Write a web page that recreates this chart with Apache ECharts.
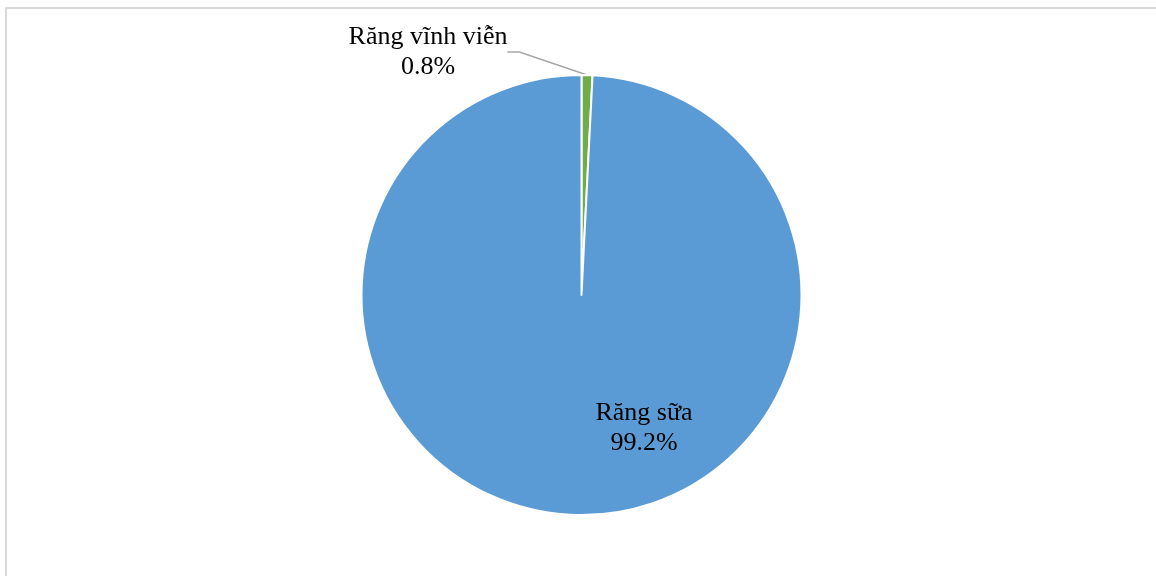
<!DOCTYPE html>
<html>
<head>
<meta charset="utf-8">
<script src="https://cdn.jsdelivr.net/npm/echarts@6/dist/echarts.min.js"></script>
<style>
  html, body { margin: 0; padding: 0; background: #ffffff; }
  #chart { width: 1156px; height: 576px; }
</style>
</head>
<body>
<div id="chart"></div>
<script>
// Tooth type shares
const categories = ['Răng vĩnh viễn', 'Răng sữa'];
const shares = [0.8, 99.2];
const sliceColors = ['#70AD47', '#5B9BD5'];

const chart = echarts.init(document.getElementById('chart'), null, { renderer: 'canvas' });

const data = categories.map((name, i) => ({
  name: name,
  value: shares[i],
  itemStyle: { color: sliceColors[i] }
}));

const option = {
  backgroundColor: '#ffffff',
  animation: false,
  graphic: [{
    type: 'polyline',
    shape: { points: [[6, 576], [6, 8], [1156, 8]] },
    style: { stroke: '#d9d9d9', lineWidth: 2, fill: null },
    silent: true
  }],
  series: [{
    type: 'pie',
    center: [581.5, 295],
    radius: 220,
    startAngle: 90,
    clockwise: true,
    avoidLabelOverlap: false,
    itemStyle: { borderColor: '#ffffff', borderWidth: 2 },
    label: {
      show: true,
      fontFamily: 'Liberation Serif',
      fontSize: 26,
      lineHeight: 30,
      color: '#000000',
      align: 'center',
      formatter: p => p.name + '\n' + p.value.toFixed(1) + '%'
    },
    labelLine: {
      show: true,
      length: 10,
      length2: 12,
      lineStyle: { color: '#a6a6a6', width: 1.5 }
    },
    labelLayout: function (params) {
      if (params.dataIndex === 0) {
        return { x: 428, y: 52, align: 'center', verticalAlign: 'middle' };
      }
      return { x: 644, y: 428, align: 'center', verticalAlign: 'middle' };
    },
    data: data
  }]
};

// the large slice carries its label inside, without a leader line
option.series[0].data[1].label = { position: 'inside' };
option.series[0].data[1].labelLine = { show: false };

chart.setOption(option);
</script>
</body>
</html>
